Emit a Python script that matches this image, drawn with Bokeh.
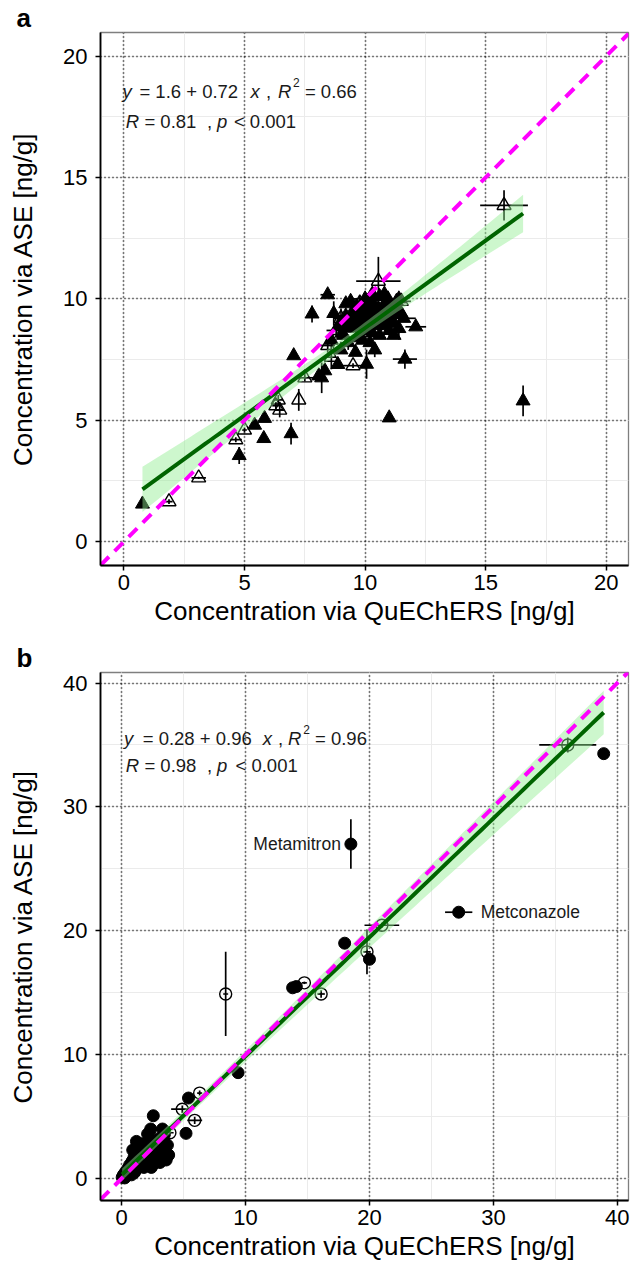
import numpy as np
from bokeh.plotting import figure
from bokeh.layouts import column
from bokeh.models import SingleIntervalTicker, Range1d, Grid
from bokeh.core.properties import value
from bokeh.embed import file_html
from bokeh.resources import INLINE

FONT = "Liberation Sans"

# ---------------- Panel a data (triangles) ----------------
a_fill_x = [0.77, 4.78, 5.42, 5.80, 5.83, 6.93, 7.04, 11.00, 16.55, 11.65, 12.10, 11.40, 8.20, 10.06, 8.87, 8.33, 8.08, 7.80, 8.45,
            8.90, 9.10, 9.20, 9.40, 9.50, 9.60, 9.70, 9.80, 9.90, 10.00, 10.10, 10.20, 10.30, 10.40, 10.50, 10.60, 10.70, 10.80,
            10.90, 11.00, 11.10, 11.20, 11.30, 11.50, 11.60, 10.30, 9.30, 9.90, 10.60, 11.20, 9.00, 9.60, 10.40, 8.60, 8.70,
            9.40, 10.00, 10.80, 11.40, 9.70, 10.20, 11.00, 9.20,
            9.05, 9.15, 9.35, 9.45, 9.55, 9.65, 9.75, 9.85, 9.95, 10.05, 10.15, 10.25, 10.35, 10.45, 10.55,
            10.65, 10.75, 10.85, 10.95, 11.05, 11.15, 11.25, 11.35, 9.25, 9.85, 10.45, 10.05, 9.65, 10.95, 10.25]
a_fill_y = [1.55, 3.55, 4.80, 4.25, 5.08, 4.45, 7.66, 5.10, 5.80, 7.52, 8.85, 8.78, 6.75, 7.31, 7.30, 7.04, 6.83, 9.38, 10.17,
            8.90, 8.50, 9.30, 8.80, 9.50, 9.00, 8.40, 9.70, 9.20, 8.80, 9.90, 9.40, 8.60, 9.70, 9.10, 10.10, 9.50, 8.90,
            9.80, 9.30, 9.70, 9.00, 9.90, 9.40, 9.20, 10.20, 8.20, 8.30, 8.50, 8.50, 7.90, 7.80, 7.90, 8.30, 9.40,
            9.90, 10.00, 10.20, 10.00, 9.40, 8.20, 8.70, 9.80,
            8.60, 9.00, 8.90, 9.20, 8.90, 9.30, 9.10, 9.40, 9.00, 9.50, 9.20, 9.60, 9.30, 9.40, 9.60,
            9.30, 9.70, 9.50, 9.10, 9.60, 9.40, 9.70, 9.50, 8.80, 8.70, 8.90, 9.70, 9.70, 10.00, 9.90]
a_fill_xerr = [0, 0, 0, 0, 0, 0, 0, 0, 0, 0.5, 0.43, 0, 0, 0, 0, 0, 0, 0, 0.3,
               0, 0, 0.3, 0, 0, 0, 0, 0.3, 0, 0, 0, 0, 0, 0.4, 0, 0, 0, 0,
               0, 0, 0.3, 0, 0, 0, 0.5, 0, 0, 0, 0, 0, 0, 0, 0, 0, 0,
               0, 0.5, 0, 0, 0, 0, 0, 0,
               0, 0.2, 0, 0, 0, 0.3, 0, 0, 0, 0, 0.2, 0, 0, 0, 0,
               0, 0, 0.3, 0, 0, 0, 0, 0.2, 0, 0, 0, 0, 0, 0, 0]
a_fill_yerr = [0, 0.35, 0, 0, 0, 0.45, 0, 0, 0.63, 0.4, 0, 0.45, 0.63, 0.6, 0, 0, 0, 0.35, 0,
               0.3, 0, 0, 0, 0.4, 0, 0, 0, 0, 0.3, 0, 0, 0, 0, 0, 0, 0.3, 0,
               0, 0, 0, 0, 0, 0, 0, 0, 0.3, 0, 0, 0, 0, 0, 0.3, 0, 0.5,
               0, 0, 0, 0, 0, 0, 0.3, 0,
               0.3, 0, 0, 0.2, 0, 0, 0, 0.3, 0, 0, 0, 0, 0.2, 0, 0,
               0.3, 0, 0, 0, 0.2, 0, 0, 0, 0, 0.3, 0, 0, 0, 0, 0]
a_open_x = [1.87, 3.10, 4.64, 5.00, 6.40, 6.46, 6.30, 7.25, 7.50, 9.50, 8.45, 9.78, 10.55, 15.76, 8.80, 9.00, 10.90, 11.50, 10.20, 8.60]
a_open_y = [1.65, 2.63, 4.20, 4.60, 5.84, 5.42, 5.60, 5.84, 6.75, 7.25, 8.08, 9.83, 10.73, 13.85, 8.70, 9.20, 9.60, 9.90, 9.00, 7.60]
a_open_xerr = [0.15, 0.30, 0.25, 0.10, 0.20, 0.20, 0.15, 0.00, 0.40, 0.50, 0.30, 0.20, 0.92, 0.99, 0.40, 0.30, 0.50, 0.40, 0.20, 0.20]
a_open_yerr = [0.10, 0.05, 0.10, 0.10, 0.20, 0.30, 0.15, 0.45, 0.15, 0.10, 0.30, 0.30, 1.00, 0.62, 0.30, 0.40, 0.20, 0.20, 0.50, 0.50]
a_fit = [1.6, 0.72]          # intercept, slope
a_eq = ["1.6", "0.72", "0.66"]
a_cor = ["0.81", "0.001"]

# ---------------- Panel b data (circles) ----------------
b_fill_x = [38.9, 18.5, 27.2, 18.0, 20.0, 13.8, 14.1, 9.4, 5.4, 5.2, 2.56, 2.35, 3.3,
            0.05, 0.15, 0.25, 0.3, 0.4, 0.5, 0.55, 0.65, 0.7, 0.8, 0.85, 0.9, 1.0, 1.05, 1.1, 1.2, 1.25, 1.3, 1.4,
            1.45, 1.5, 1.6, 1.65, 1.7, 1.8, 1.85, 1.9, 2.0, 2.05, 2.1, 2.2, 2.3, 2.4, 2.45, 2.5, 2.6, 2.7, 2.8,
            2.9, 3.0, 3.1, 3.2, 3.3, 3.4, 3.5, 3.6, 3.7, 3.8, 1.2, 0.9, 2.1]
b_fill_y = [34.3, 27.0, 21.5, 19.0, 17.7, 15.4, 15.5, 8.55, 6.5, 3.65, 5.07, 4.0, 4.0,
            0.1, 0.3, 0.05, 0.5, 0.25, 0.8, 0.4, 1.1, 0.6, 0.3, 1.4, 0.9, 1.7, 0.5, 1.2, 2.0, 0.8, 1.5, 2.4,
            1.0, 1.8, 2.8, 1.3, 2.2, 0.9, 1.6, 2.6, 1.2, 2.0, 3.0, 1.5, 2.4, 0.9, 1.8, 2.9, 1.2, 2.2, 1.6,
            3.2, 1.9, 1.3, 2.5, 1.7, 3.3, 2.1, 1.5, 2.7, 1.9, 3.0, 2.3, 3.6]
b_fill_xerr = [0, 0, 1.1] + [0] * 61
b_fill_yerr = [0, 2.0, 0] + [0] * 61
b_open_x = [36.0, 21.0, 19.8, 14.75, 16.1, 8.4, 6.3, 4.9, 5.9, 3.9, 2.3, 1.0]
b_open_y = [35.0, 20.45, 18.3, 15.8, 14.9, 14.9, 6.9, 5.6, 4.7, 3.7, 1.85, 1.0]
b_open_xerr = [2.3, 1.4, 0.3, 0.2, 0.3, 0.2, 0.2, 0.9, 0.6, 0.3, 0.3, 0.2]
b_open_yerr = [0.6, 0.2, 1.8, 0.1, 0.3, 3.4, 0.2, 0.3, 0.3, 0.3, 0.3, 0.2]
b_fit = [0.28, 0.96]
b_eq = ["0.28", "0.96", "0.96"]
b_cor = ["0.98", "0.001"]
b_label_text = ["Metamitron", "Metconazole"]
b_label_x = [18.5, 27.2]
b_label_y = [27.0, 21.5]

X_TITLE = "Concentration via QuEChERS [ng/g]"
Y_TITLE = "Concentration via ASE [ng/g]"


def band(xs, ys, b0, b1):
    xs = np.asarray(xs, float)
    ys = np.asarray(ys, float)
    n = len(xs)
    res = ys - (b0 + b1 * xs)
    s = np.sqrt(np.sum(res ** 2) / (n - 2))
    xbar = xs.mean()
    sxx = np.sum((xs - xbar) ** 2)
    gx = np.linspace(xs.min(), xs.max(), 80)
    fit = b0 + b1 * gx
    se = s * np.sqrt(1.0 / n + (gx - xbar) ** 2 / sxx)
    return gx, fit, fit - 1.97 * se, fit + 1.97 * se


def make_panel(height, top, bottom, xr, yr, interval, fx, fy, fxe, fye, ox, oy, oxe, oye,
               marker, msize, fitc, eq, cor, ann, letter):
    p = figure(width=630, height=height, output_backend="svg", toolbar_location=None,
               x_range=Range1d(*xr), y_range=Range1d(*yr),
               min_border_left=100, min_border_right=2, min_border_top=top, min_border_bottom=bottom)
    p.background_fill_color = "white"
    p.border_fill_color = "white"
    p.outline_line_color = "#7f7f7f"
    p.outline_line_width = 1.3

    # panel letter as the plot title
    p.title.text = letter
    p.title.text_font = FONT
    p.title.text_font_style = "bold"
    p.title.text_font_size = "26px"
    p.title.text_color = "black"
    p.title.align = "left"
    p.title.offset = -84
    p.title.standoff = 0
    p.title.text_line_height = 0.9

    tk = SingleIntervalTicker(interval=interval, num_minor_ticks=2)
    for ax in (p.xaxis[0], p.yaxis[0]):
        ax.ticker = tk
        ax.axis_line_color = "black"
        ax.axis_line_width = 1.8
        ax.major_tick_line_color = "black"
        ax.major_tick_line_width = 1.5
        ax.major_tick_out = 5
        ax.major_tick_in = 0
        ax.minor_tick_line_color = None
        ax.major_label_text_font = FONT
        ax.major_label_text_font_size = "22px"
        ax.major_label_text_color = "black"
        ax.axis_label_text_font = FONT
        ax.axis_label_text_font_size = "26px"
        ax.axis_label_text_font_style = "normal"
        ax.axis_label_text_color = "black"
    p.xaxis.axis_label = X_TITLE
    p.yaxis.axis_label = Y_TITLE
    p.xaxis.major_label_standoff = 4
    p.xaxis.axis_label_standoff = 3
    p.yaxis.major_label_standoff = 8
    p.yaxis.axis_label_standoff = 22

    for g in (p.xgrid[0], p.ygrid[0]):
        g.ticker = tk
        g.grid_line_color = "#EBEBEB"
        g.grid_line_width = 1
        g.minor_grid_line_color = "#EBEBEB"
        g.minor_grid_line_width = 1
    for dim in (0, 1):
        g = Grid(dimension=dim, ticker=tk, grid_line_color="black", grid_line_width=1.6,
                 grid_line_dash="1 3")
        p.add_layout(g)

    fx_, fy_, fxe_, fye_ = map(np.asarray, (fx, fy, fxe, fye))
    ox_, oy_, oxe_, oye_ = map(np.asarray, (ox, oy, oxe, oye))
    for X, Y, XE, YE in ((fx_, fy_, fxe_, fye_), (ox_, oy_, oxe_, oye_)):
        m = XE > 0
        p.segment(X[m] - XE[m], Y[m], X[m] + XE[m], Y[m], line_color="black", line_width=1.7)
        m = YE > 0
        p.segment(X[m], Y[m] - YE[m], X[m], Y[m] + YE[m], line_color="black", line_width=1.7)

    p.scatter(fx, fy, marker=marker, size=msize, fill_color="black", line_color="black", line_width=1)
    p.scatter(ox, oy, marker=marker, size=msize, fill_color=None, line_color="black", line_width=1.4)

    allx = list(fx) + list(ox)
    ally = list(fy) + list(oy)
    gx, fit, lo, hi = band(allx, ally, fitc[0], fitc[1])
    p.varea(x=gx, y1=lo, y2=hi, fill_color="#90EE90", fill_alpha=0.45)
    p.line(gx, fit, line_color="#006400", line_width=4)

    p.line([xr[0], xr[1]], [xr[0], xr[1]], line_color="#FF00FF", line_width=4, line_dash="12 8")

    x0 = xr[0]
    (y1, y2, offs1, offs2) = ann
    pieces1 = [("y", offs1[0], "italic", "18.5px", 0),
               ("= %s + %s" % (eq[0], eq[1]), offs1[1], "normal", "18.5px", 0),
               ("x", offs1[2], "italic", "18.5px", 0),
               (",", offs1[3], "normal", "18.5px", 0),
               ("R", offs1[4], "italic", "18.5px", 0),
               ("2", offs1[5], "normal", "12px", -9),
               ("= %s" % eq[2], offs1[6], "normal", "18.5px", 0)]
    pieces2 = [("R", offs2[0], "italic", "18.5px", 0),
               ("= %s" % cor[0], offs2[1], "normal", "18.5px", 0),
               (",", offs2[2], "normal", "18.5px", 0),
               ("p", offs2[3], "italic", "18.5px", 0),
               ("< %s" % cor[1], offs2[4], "normal", "18.5px", 0)]
    for yy, pcs in ((y1, pieces1), (y2, pieces2)):
        for txt, off, sty, sz, yoff in pcs:
            p.text(x=[x0], y=[yy], text=[txt], x_offset=off, y_offset=yoff,
                   text_font=value(FONT), text_font_style=sty, text_font_size=sz,
                   text_color="#1a1a1a", text_baseline="middle", text_align="left")
    return p


pa = make_panel(640, 30, 75, (-0.97, 20.92), (-0.98, 20.97), 5,
                a_fill_x, a_fill_y, a_fill_xerr, a_fill_yerr,
                a_open_x, a_open_y, a_open_xerr, a_open_yerr,
                "triangle", 14, a_fit, a_eq, a_cor,
                (18.54, 17.29, [22, 38.9, 150, 165.5, 177.4, 192.6, 204.4], [25.3, 43.9, 106.4, 116.6, 133.4]),
                "a")

pb = make_panel(629, 31, 69, (-1.7, 40.9), (-1.77, 40.85), 10,
                b_fill_x, b_fill_y, b_fill_xerr, b_fill_yerr,
                b_open_x, b_open_y, b_open_xerr, b_open_yerr,
                "circle", 12, b_fit, b_eq, b_cor,
                (35.55, 33.38, [23.6, 42.2, 162.2, 177.4, 187.5, 202.7, 214.5], [25.3, 43.9, 106.4, 116.6, 135]),
                "b")

pb.text(x=[b_label_x[0]], y=[b_label_y[0]], text=[b_label_text[0]], x_offset=-10,
        text_font=value(FONT), text_font_size="17.5px", text_align="right", text_baseline="middle",
        text_color="#1a1a1a")
pb.text(x=[b_label_x[1]], y=[b_label_y[1]], text=[b_label_text[1]], x_offset=22,
        text_font=value(FONT), text_font_size="17.5px", text_align="left", text_baseline="middle",
        text_color="#1a1a1a")

layout = column(pa, pb, spacing=0)
open("out.html", "w").write(file_html(layout, INLINE))
